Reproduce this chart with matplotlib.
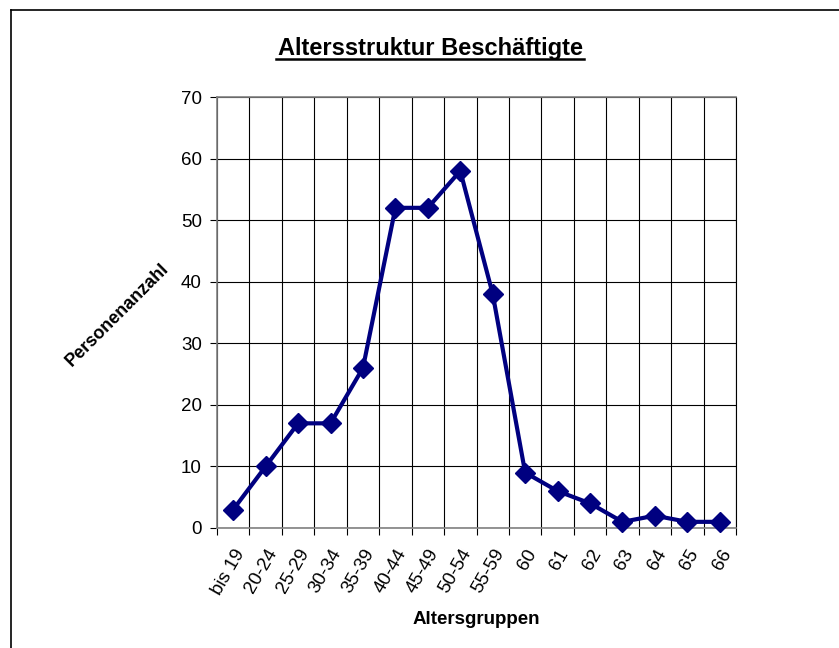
import matplotlib
matplotlib.use('Agg')
import matplotlib.pyplot as plt
from matplotlib.lines import Line2D
import numpy as np

plt.rcParams['font.family'] = ['Liberation Sans', 'DejaVu Sans']

# Data
altersgruppen = ['bis 19', '20-24', '25-29', '30-34', '35-39', '40-44', '45-49',
                 '50-54', '55-59', '60', '61', '62', '63', '64', '65', '66']
personen = [3, 10, 17, 17, 26, 52, 52, 58, 38, 9, 6, 4, 1, 2, 1, 1]

W, H = 839, 648
fig = plt.figure(figsize=(W / 100, H / 100), dpi=100)

# outer chart frame (only left and top visible)
fig.add_artist(Line2D([11 / W, 11 / W], [0, 1 - 10 / H], color='black', lw=1.2))
fig.add_artist(Line2D([11 / W, 1], [1 - 10 / H, 1 - 10 / H], color='black', lw=1.2))

ax = fig.add_axes([217 / W, (H - 528) / H, 519 / W, 431 / H])

x = np.arange(len(altersgruppen))
ax.plot(x, personen, color='#000080', lw=3, marker='D', markersize=10,
        markeredgecolor='#000080', zorder=3, clip_on=False)

ax.set_xlim(-0.5, len(altersgruppen) - 0.5)
ax.set_ylim(0, 70)
ax.set_yticks(range(0, 71, 10))
ax.set_xticks(x)
ax.set_xticklabels(altersgruppen, rotation=60, ha='right', rotation_mode='anchor')
ax.set_xticks(np.arange(-0.5, len(altersgruppen)), minor=True)

ax.grid(True, axis='y', color='black', lw=0.8)
ax.grid(True, axis='x', which='minor', color='black', lw=0.8)
ax.set_axisbelow(True)

ax.tick_params(axis='x', which='major', length=0, pad=13, labelsize=13.5)
ax.tick_params(axis='x', which='minor', length=5, width=0.8, direction='out')
ax.tick_params(axis='y', length=5, width=0.8, direction='out', pad=6, labelsize=13.5)

for s in ['left', 'bottom', 'top']:
    ax.spines[s].set_color('#808080')
    ax.spines[s].set_linewidth(1.2)
ax.spines['right'].set_color('black')
ax.spines['right'].set_linewidth(0.8)

fig.text(430 / W, 1 - 55 / H, 'Altersstruktur Beschäftigte', ha='center', va='baseline',
         fontsize=17, fontweight='bold')
# underline of title
fig.add_artist(Line2D([276 / W, 584 / W], [1 - 58.5 / H, 1 - 58.5 / H], color='black', lw=1.8))

fig.text(117 / W, 1 - 315 / H, 'Personenanzahl', ha='center', va='center',
         rotation=45, fontsize=13, fontweight='bold')
fig.text(476 / W, 1 - 620 / H, 'Altersgruppen', ha='center', va='center',
         fontsize=13.5, fontweight='bold')

fig.savefig('out.png', dpi=100)
